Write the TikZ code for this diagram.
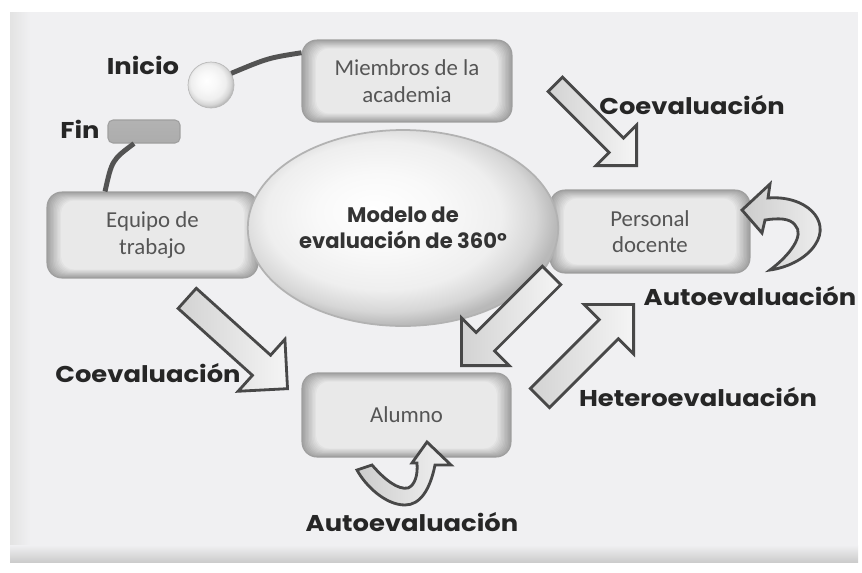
\documentclass[tikz,border=0pt]{standalone}
\usepackage{fontspec}
\setmainfont{Carlito}
\newfontfamily\labelfont{Poppins}
\usetikzlibrary{shapes.geometric,shapes.arrows}

\definecolor{panelgray}{RGB}{240,240,242}
\definecolor{textgray}{RGB}{85,85,85}
\definecolor{arrowline}{RGB}{72,72,72}

% shine of the spheres
\pgfdeclareradialshading{sphereshade}{\pgfpoint{-5bp}{5bp}}{color(0bp)=(white); color(10bp)=(gray!5); color(19bp)=(gray!13); color(24bp)=(gray!32); color(27bp)=(gray!55); color(50bp)=(gray!55)}

\tikzset{
  cardbase/.style={rectangle, rounded corners=0.3cm, draw=gray!75, line width=0.6pt,
    text=textgray, align=center, font=\fontsize{13}{15}\selectfont},
  card/.style={cardbase,
    path picture={
      \foreach \k [evaluate=\k as \tone using int(74-5.6*\k)] in {0,...,10}
        \fill[gray!\tone, rounded corners=0.26cm]
          ([shift={(\k*0.028cm,\k*0.017cm)}]path picture bounding box.south west) rectangle
          ([shift={(-\k*0.028cm,-\k*0.017cm)}]path picture bounding box.north east);
    }},
  tag/.style={font=\labelfont\bfseries\fontsize{13}{15}\selectfont, text=black!85, xscale=1.13},
  blockarrow/.style={single arrow, draw=arrowline, line width=1.6pt, left color=gray!35, right color=gray!8,
    single arrow tip angle=90, inner sep=0.13cm, anchor=tip},
  link/.style={draw=gray!65!black, line width=2.8pt},
  loopfill/.style={draw=arrowline, line width=1.6pt, left color=gray!40, right color=gray!10},
}

\begin{document}
\begin{tikzpicture}[x=0.02cm, y=-0.02cm]
  \useasboundingbox (0,0) rectangle (862,572);

  % Panel
  \fill[white] (0,0) rectangle (862,572);
  \fill[panelgray] (10,12) rectangle (858,562);
  \shade[left color=gray!22, right color=panelgray] (10,12) rectangle (30,562);
  \shade[top color=panelgray, bottom color=gray!40] (10,545) rectangle (858,562);

  % Boxes
  \node[card, minimum width=4.2cm, minimum height=1.64cm] (miembros) at (407,81) {Miembros de la\\academia};
  \node[card, minimum width=4.22cm, minimum height=1.72cm] (equipo) at (152.5,235) {Equipo de\\trabajo};
  \node[card, minimum width=4.0cm, minimum height=1.66cm] (personal) at (650,231.5) {Personal\\docente};
  \node[card, minimum width=4.18cm, minimum height=1.68cm] (alumno) at (406.5,415) {Alumno};
  \node[cardbase, rounded corners=0.1cm, top color=gray!60, middle color=gray!25, bottom color=gray!65,
    minimum width=1.44cm, minimum height=0.46cm, inner sep=0pt] (fin) at (144,131.5) {};

  % Spheres
  \node[ellipse, shading=sphereshade, draw=gray!60, line width=1pt, minimum width=4.68cm, minimum height=3.92cm,
    align=center, text=black!80, font=\labelfont\bfseries\fontsize{12}{15}\selectfont] (modelo) at (403,228)
    {Modelo de\\evaluación de 360°};
  \node[circle, shading=sphereshade, draw=gray!55, minimum size=0.92cm] (inicio) at (211,85) {};

  % Start and end links
  \draw[link] (inicio.30) .. controls (268,58) .. (miembros.165);
  \draw[link] ([xshift=-0.2cm]fin.south) .. controls (112,160) .. ([xshift=-0.95cm]equipo.north);

  % Block arrows
  \node[blockarrow, rotate=-45, minimum height=2.3cm, minimum width=1.15cm, inner sep=0.11cm] (coArrowTop) at (638,167) {};
  \node[blockarrow, rotate=-42, minimum height=2.7cm, minimum width=1.4cm] (coArrowLeft) at (289,390) {};
  \node[blockarrow, rotate=-135, minimum height=2.55cm, minimum width=1.35cm] (heteroArrowIn) at (460,367) {};
  \node[blockarrow, rotate=45, minimum height=2.65cm, minimum width=1.4cm] (heteroArrowOut) at (635,303) {};

  % Self arrows
  \path[loopfill] (742,210) -- (770,184) -- (768,198)
    .. controls (805,195) and (832,220) .. (815,245)
    .. controls (805,260) and (785,268) .. (770,270)
    .. controls (790,255) and (805,235) .. (795,225)
    .. controls (790,218) and (778,218) .. (765,220)
    -- (762,233) -- cycle;
  \path[loopfill] (427,442) -- (451,465) -- (435,465)
    .. controls (430,490) and (420,505) .. (405,505)
    .. controls (385,505) and (365,485) .. (357,470)
    -- (372,465)
    .. controls (385,480) and (398,490) .. (408,488)
    .. controls (415,485) and (418,475) .. (417,463)
    -- (412,463) -- cycle;

  % Labels
  \node[tag] (inicioTag) at (143,65) {Inicio};
  \node[tag] (finTag) at (80,129) {Fin};
  \node[tag] (coevalTop) at (692,105) {Coevaluación};
  \node[tag] (autoevalRight) at (750,296) {Autoevaluación};
  \node[tag] (heteroeval) at (698,397) {Heteroevaluación};
  \node[tag] (coevalLeft) at (148,373) {Coevaluación};
  \node[tag] (autoevalBottom) at (412,522) {Autoevaluación};
\end{tikzpicture}
\end{document}
